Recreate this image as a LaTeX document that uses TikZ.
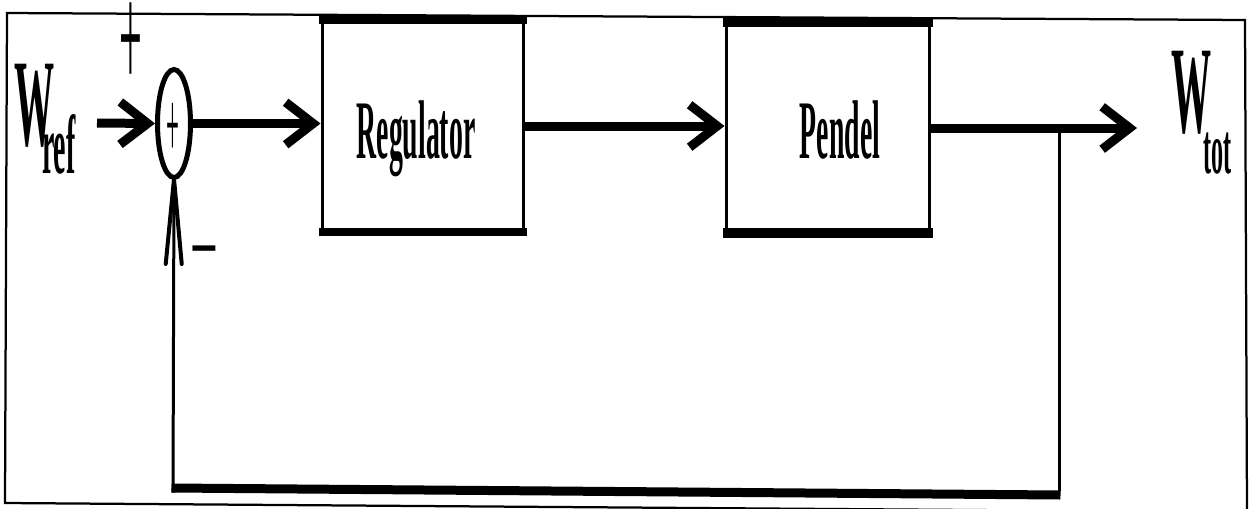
\documentclass[tikz,border=0pt]{standalone}
\usepackage{fontspec}
\usepackage{graphicx}
\usetikzlibrary{arrows.meta,shapes.geometric}
\setmainfont{Liberation Serif}
\newcommand\tallt[3]{\scalebox{1}[#2]{\fontsize{#1}{#1}\selectfont #3}}
\newcommand\tallb[3]{\scalebox{1}[#2]{\fontsize{#1}{#1}\selectfont\bfseries #3}}
\tikzset{
  sig/.style={line width=0.18cm,-{Straight Barb[length=0.55cm,width=0.85cm]}},
  thinline/.style={line width=0.06cm},
  thickline/.style={line width=0.18cm},
  fbarrow/.style={line width=0.06cm,shorten >=-0.06cm,-{Straight Barb[length=1.7cm,width=0.32cm,line width=0.08cm,round]}},
  blockbox/.style={draw,line width=0.06cm,inner sep=0},
  lbl/.style={inner sep=0,outer sep=0},
}
\begin{document}
\begin{tikzpicture}[x=0.02cm,y=-0.02cm]
\useasboundingbox (0,0) rectangle (1252,508);
\fill[white] (0,0) rectangle (1252,508);
% frame
\draw[line width=0.045cm] (7,13) -- (1245,20) -- (1247,512) -- (5,503) -- cycle;

% blocks
\node[blockbox,minimum width=4.04cm,minimum height=4.2cm] (reg) at (423,126) {};
\draw[line width=0.16cm] ([xshift=-0.03cm]reg.north west) -- ([xshift=0.03cm]reg.north east);
\draw[line width=0.16cm] ([xshift=-0.03cm]reg.south west) -- ([xshift=0.03cm]reg.south east);
\node[blockbox,minimum width=4.08cm,minimum height=4.18cm] (pen) at (828,127.5) {};
\draw[line width=0.2cm] ([xshift=-0.03cm]pen.north west) -- ([xshift=0.03cm]pen.north east);
\draw[line width=0.2cm] ([xshift=-0.03cm]pen.south west) -- ([xshift=0.03cm]pen.south east);
\node[lbl,anchor=base] (regtxt) at (416,158) {\tallb{15.8}{3.0}{Regulator}};
\node[lbl,anchor=base] (pentxt) at (840,158) {\tallb{15.8}{3.0}{Pendel}};

% summing junction
\node[ellipse,draw,line width=0.1cm,minimum width=0.66cm,minimum height=2.16cm,inner sep=0] (sum) at (174,123.5) {};
\node[lbl] (sumplus) at (173,130) {\tallt{13}{4.2}{+}};
\node[lbl] (plus) at (131,46) {\tallt{23}{3.8}{+}};
\node[lbl] (minus) at (204,265) {\tallt{28}{2.2}{−}};

% signal labels
\node[lbl,anchor=base west] (wref) at (14,145) {\tallb{22.8}{3.1}{W}};
\node[lbl,anchor=base west] (ref) at (42,173) {\tallb{15.9}{3.0}{ref}};
\node[lbl,anchor=base west] (wtot) at (1171,132) {\tallb{22.8}{3.1}{W}};
\node[lbl,anchor=base west] (tot) at (1203,173) {\tallb{13.7}{3.0}{tot}};

% coordinates
\coordinate (in) at (97,123);
\coordinate (out) at (1137,128);
\coordinate (br) at (1059,128);
\coordinate (fbR) at (1059,495);
\coordinate (fbL) at (173,488);

% connectors
\draw[sig] (in) -- (sum.west);
\draw[sig] (sum.east) -- (sum.east -| reg.west);
\draw[sig] (reg.east) -- (reg.east -| pen.west);
\draw[sig] (pen.east |- out) -- (out);
\draw[thinline] (br) -- ([yshift=0.09cm]fbR);
\draw[thickline] ([xshift=0.03cm]fbR) -- ([xshift=-0.03cm]fbL);
\draw[fbarrow] ([yshift=-0.09cm]fbL) -- (sum.south);
\end{tikzpicture}
\end{document}
